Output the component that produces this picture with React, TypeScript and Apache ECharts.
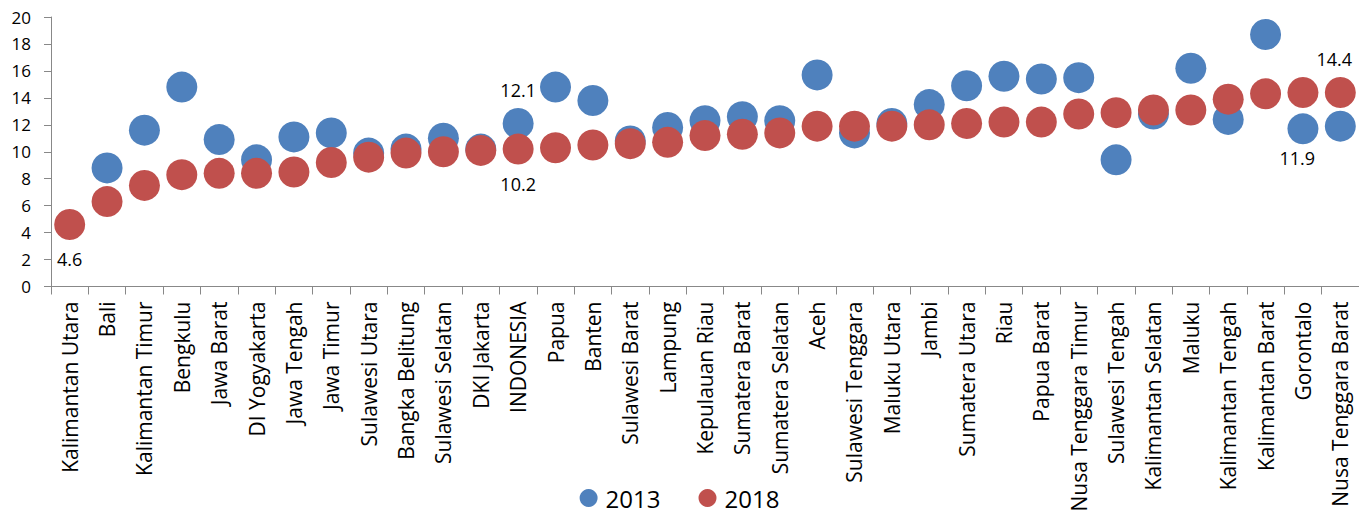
import React, { useEffect, useRef } from "react";
import * as echarts from "echarts";

const categories = [
  "Kalimantan Utara", "Bali", "Kalimantan Timur", "Bengkulu", "Jawa Barat",
  "DI Yogyakarta", "Jawa Tengah", "Jawa Timur", "Sulawesi Utara", "Bangka Belitung",
  "Sulawesi Selatan", "DKI Jakarta", "INDONESIA", "Papua", "Banten",
  "Sulawesi Barat", "Lampung", "Kepulauan Riau", "Sumatera Barat", "Sumatera Selatan",
  "Aceh", "Sulawesi Tenggara", "Maluku Utara", "Jambi", "Sumatera Utara",
  "Riau", "Papua Barat", "Nusa Tenggara Timur", "Sulawesi Tengah", "Kalimantan Selatan",
  "Maluku", "Kalimantan Tengah", "Kalimantan Barat", "Gorontalo", "Nusa Tenggara Barat",
];

const values2013: (number | null)[] = [
  null, 8.8, 11.6, 14.8, 10.9,
  9.4, 11.1, 11.4, 9.9, 10.2,
  11.0, 10.2, 12.1, 14.8, 13.8,
  10.8, 11.8, 12.3, 12.6, 12.3,
  15.7, 11.4, 12.1, 13.5, 14.9,
  15.6, 15.4, 15.5, 9.4, 12.8,
  16.2, 12.4, 18.7, 11.7, 11.9,
];

const values2018: number[] = [
  4.6, 6.3, 7.5, 8.3, 8.4,
  8.4, 8.5, 9.2, 9.6, 9.9,
  10.0, 10.1, 10.2, 10.3, 10.5,
  10.6, 10.7, 11.2, 11.3, 11.4,
  11.9, 11.9, 11.9, 12.0, 12.1,
  12.2, 12.2, 12.8, 12.9, 13.1,
  13.1, 13.9, 14.3, 14.4, 14.4,
];

const seriesNames = ["2013", "2018"];
const yTicks = { min: 0, max: 20, interval: 2 };

// which points carry a value label, and where
const labels2013: Record<number, any> = {
  12: { position: "top", distance: 9 },
  34: { position: "bottom", distance: 7, offset: [-43, 0] },
};
const labels2018: Record<number, any> = {
  0: { position: "bottom", distance: 10 },
  12: { position: "bottom", distance: 10 },
  34: { position: "top", distance: 9, offset: [-6, 0] },
};

const BLUE = "#4F81BD";
const RED = "#C0504D";
const AXIS = "#888888";
const FONT = "'Open Sans', sans-serif";

function buildData(vals: (number | null)[], lab: Record<number, any>) {
  return vals.map((v, i) => {
    if (v === null) return { value: null };
    const l = lab[i];
    if (!l) return { value: v };
    return {
      value: v,
      label: {
        show: true,
        position: l.position,
        distance: l.distance,
        offset: l.offset || [0, 0],
        formatter: (p: any) => Number(p.value).toFixed(1),
        color: "#000",
        fontSize: 18,
        fontFamily: FONT,
      },
    };
  });
}

export default function App() {
  const ref = useRef<HTMLDivElement>(null);
  useEffect(() => {
    document.body.style.margin = "0";
    const chart = echarts.init(ref.current!, undefined, { renderer: "svg" });
    chart.setOption({
      animation: false,
      backgroundColor: "#ffffff",
      textStyle: { fontFamily: FONT },
      grid: { left: 51, top: 17, width: 1311.5, height: 269.5, containLabel: false },
      legend: {
        data: seriesNames,
        left: "center",
        top: 486,
        padding: 0,
        icon: "circle",
        itemWidth: 18,
        itemHeight: 18,
        itemGap: 38,
        textStyle: {
          fontSize: 24,
          lineHeight: 24,
          color: "#000",
          fontFamily: FONT,
          padding: [0, 0, 0, 3],
        },
      },
      xAxis: {
        type: "category",
        data: categories,
        boundaryGap: true,
        axisLine: { lineStyle: { color: AXIS, width: 1 } },
        axisTick: { show: true, length: 8, lineStyle: { color: AXIS } },
        axisLabel: {
          interval: 0,
          rotate: 90,
          margin: 15,
          fontSize: 21,
          color: "#000",
          fontFamily: FONT,
        },
        splitLine: { show: false },
      },
      yAxis: {
        type: "value",
        min: yTicks.min,
        max: yTicks.max,
        interval: yTicks.interval,
        axisLine: { show: true, lineStyle: { color: AXIS, width: 1 } },
        axisTick: { show: true, length: 7, lineStyle: { color: AXIS } },
        axisLabel: { margin: 20, fontSize: 17, color: "#000", fontFamily: FONT },
        splitLine: { show: false },
      },
      series: [
        {
          name: seriesNames[0],
          type: "scatter",
          symbol: "circle",
          symbolSize: 31,
          itemStyle: { color: BLUE, opacity: 1 },
          data: buildData(values2013, labels2013),
          z: 2,
        },
        {
          name: seriesNames[1],
          type: "scatter",
          symbol: "circle",
          symbolSize: 31,
          itemStyle: { color: RED, opacity: 1 },
          data: buildData(values2018, labels2018),
          z: 3,
        },
      ],
    });
    return () => chart.dispose();
  }, []);
  return <div ref={ref} style={{ width: 1359, height: 515 }} />;
}
